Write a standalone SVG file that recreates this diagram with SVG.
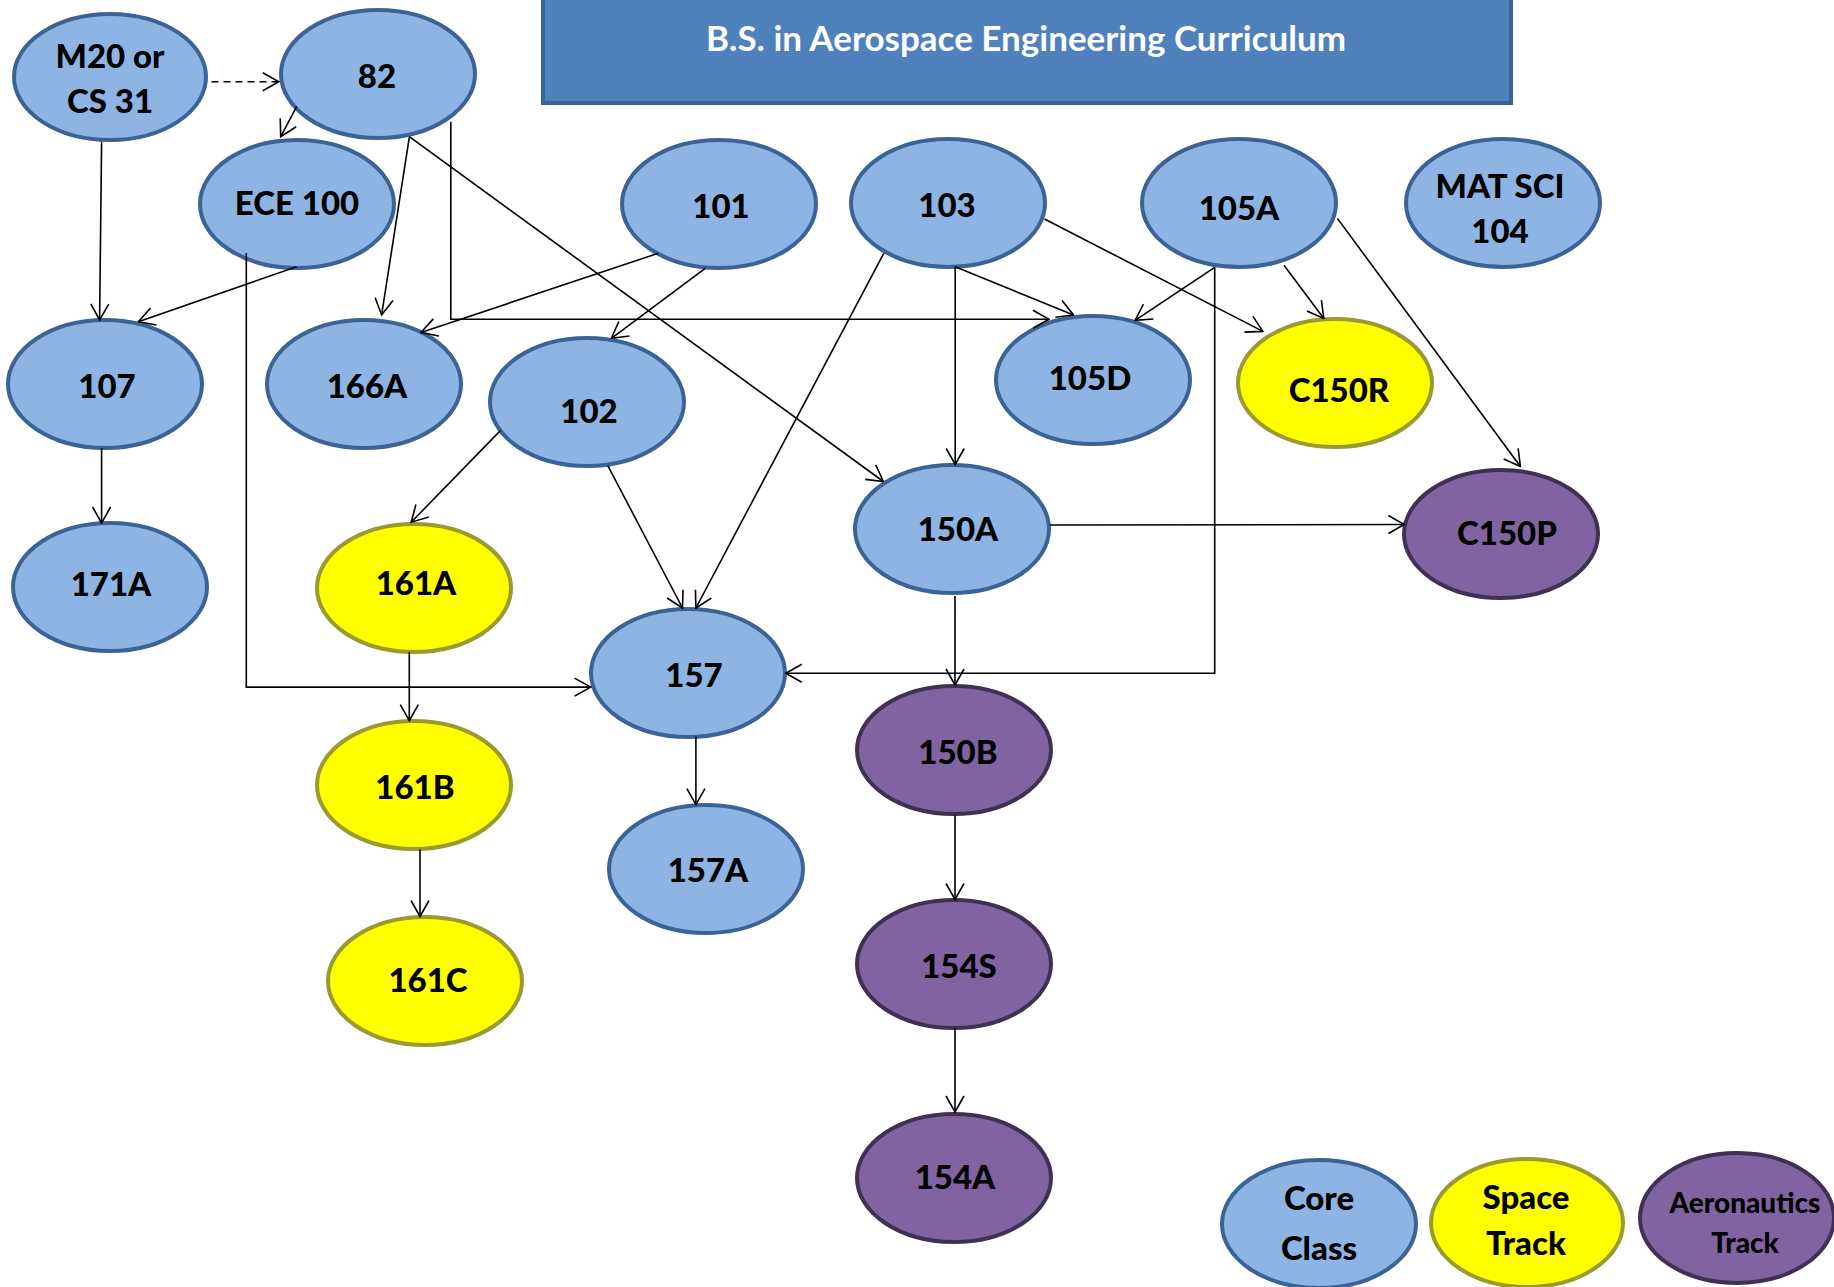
<svg xmlns="http://www.w3.org/2000/svg" width="1834" height="1287" viewBox="0 0 1834 1287">
<style>
.core{fill:#8EB4E3;stroke:#3B6395;stroke-width:4}
.space{fill:#FFFF00;stroke:#9A9A30;stroke-width:4}
.aero{fill:#8064A2;stroke:#3F3151;stroke-width:4}
.t{font-family:Lato,"Open Sans","Liberation Sans",sans-serif;font-weight:900;font-size:33px;fill:#000;text-anchor:middle}
.c{fill:none;stroke:#000;stroke-width:1.6}
</style>
<defs>
<marker id="ah" viewBox="0 0 18 20" refX="17" refY="10" markerWidth="18" markerHeight="20" markerUnits="userSpaceOnUse" orient="auto">
<path d="M1,1 L17,10 L1,19" fill="none" stroke="#000" stroke-width="1.6"/>
</marker>
</defs>
<rect width="1834" height="1287" fill="#fff"/>
<g id="title">
<rect x="543" y="-4" width="968" height="107" fill="#4F81BD" stroke="#3B6395" stroke-width="4"/>
<text x="1026" y="51" class="t" style="fill:#fff;font-weight:bold;font-size:35px">B.S. in Aerospace Engineering Curriculum</text>
</g>
<g id="m20"><ellipse class="core" cx="110" cy="77" rx="96" ry="63"/><text class="t" x="110" y="68">M20 or</text><text class="t" x="110" y="113">CS 31</text></g>
<g id="n82"><ellipse class="core" cx="378" cy="74" rx="97" ry="64"/><text class="t" x="377" y="88">82</text></g>
<g id="ece100"><ellipse class="core" cx="297" cy="204" rx="97" ry="64"/><text class="t" x="297" y="215">ECE 100</text></g>
<g id="n107"><ellipse class="core" cx="105" cy="384" rx="97" ry="64"/><text class="t" x="107" y="398">107</text></g>
<g id="n166a"><ellipse class="core" cx="364" cy="384" rx="97" ry="64"/><text class="t" x="367" y="398">166A</text></g>
<g id="n102"><ellipse class="core" cx="587" cy="402" rx="97" ry="64"/><text class="t" x="589" y="423">102</text></g>
<g id="n101"><ellipse class="core" cx="719" cy="204" rx="97" ry="64"/><text class="t" x="721" y="218">101</text></g>
<g id="n103"><ellipse class="core" cx="948" cy="203" rx="97" ry="64"/><text class="t" x="947" y="217">103</text></g>
<g id="n105a"><ellipse class="core" cx="1239" cy="203" rx="97" ry="64"/><text class="t" x="1239" y="220">105A</text></g>
<g id="matsci104"><ellipse class="core" cx="1503" cy="203" rx="97" ry="64"/><text class="t" x="1500" y="198">MAT SCI</text><text class="t" x="1500" y="243">104</text></g>
<g id="n105d"><ellipse class="core" cx="1093" cy="380" rx="97" ry="64"/><text class="t" x="1090" y="390">105D</text></g>
<g id="c150r"><ellipse class="space" cx="1335" cy="383" rx="97" ry="64"/><text class="t" x="1339" y="402">C150R</text></g>
<g id="c150p"><ellipse class="aero" cx="1501" cy="534" rx="97" ry="64"/><text class="t" x="1507" y="545">C150P</text></g>
<g id="n150a"><ellipse class="core" cx="952" cy="529" rx="97" ry="64"/><text class="t" x="958" y="541">150A</text></g>
<g id="n171a"><ellipse class="core" cx="110" cy="587" rx="97" ry="64"/><text class="t" x="111" y="596">171A</text></g>
<g id="n161a"><ellipse class="space" cx="414" cy="588" rx="97" ry="64"/><text class="t" x="416" y="595">161A</text></g>
<g id="n157"><ellipse class="core" cx="688" cy="673" rx="97" ry="64"/><text class="t" x="694" y="687">157</text></g>
<g id="n161b"><ellipse class="space" cx="414" cy="785" rx="97" ry="64"/><text class="t" x="415" y="799">161B</text></g>
<g id="n150b"><ellipse class="aero" cx="954" cy="750" rx="97" ry="64"/><text class="t" x="958" y="764">150B</text></g>
<g id="n157a"><ellipse class="core" cx="706" cy="869" rx="97" ry="64"/><text class="t" x="708" y="882">157A</text></g>
<g id="n161c"><ellipse class="space" cx="425" cy="981" rx="97" ry="64"/><text class="t" x="428" y="992">161C</text></g>
<g id="n154s"><ellipse class="aero" cx="954" cy="964" rx="97" ry="64"/><text class="t" x="959" y="978">154S</text></g>
<g id="n154a"><ellipse class="aero" cx="954" cy="1178" rx="97" ry="64"/><text class="t" x="955" y="1189">154A</text></g>
<g id="legend-core"><ellipse class="core" cx="1319" cy="1224" rx="97" ry="64"/><text class="t" x="1319" y="1210">Core</text><text class="t" x="1319" y="1260">Class</text></g>
<g id="legend-space"><ellipse class="space" cx="1527" cy="1223" rx="96" ry="64"/><text class="t" x="1526" y="1209">Space</text><text class="t" x="1526" y="1255">Track</text></g>
<g id="legend-aero"><ellipse class="aero" cx="1737" cy="1218" rx="97" ry="65"/><text class="t" x="1745" y="1213" style="font-size:28px">Aeronautics</text><text class="t" x="1745" y="1253" style="font-size:28px">Track</text></g>
<g id="connectors">
<path class="c" d="M211.5,81.7 L278.8,81.7" stroke-dasharray="7 5" marker-end="url(#ah)"/>
<path class="c" d="M296.6,106.7 L280.7,136.7" marker-end="url(#ah)"/>
<path class="c" d="M101.6,141.7 L99.6,320" marker-end="url(#ah)"/>
<path class="c" d="M296.6,266.7 L138.4,321.7" marker-end="url(#ah)"/>
<path class="c" d="M409.3,137.3 L381.6,315" marker-end="url(#ah)"/>
<path class="c" d="M409.3,136.7 L883.4,481.5" marker-end="url(#ah)"/>
<path class="c" d="M450.8,121.7 L450.8,319.3 L1049,319.3" marker-end="url(#ah)"/>
<path class="c" d="M246.3,253 L246.3,687.1 L590.6,687.1" marker-end="url(#ah)"/>
<path class="c" d="M658.3,253.3 L421,332.5" marker-end="url(#ah)"/>
<path class="c" d="M705.2,268.3 L611.4,338.3" marker-end="url(#ah)"/>
<path class="c" d="M883.8,253.3 L695.9,608" marker-end="url(#ah)"/>
<path class="c" d="M955.2,266.7 L955.2,464.5" marker-end="url(#ah)"/>
<path class="c" d="M955.2,266.7 L1073.5,315" marker-end="url(#ah)"/>
<path class="c" d="M1044.5,219 L1262.9,331.4" marker-end="url(#ah)"/>
<path class="c" d="M1214.7,267.3 L1135.1,320.4" marker-end="url(#ah)"/>
<path class="c" d="M1214.7,267.3 L1214.7,673.3 L785.8,673.3" marker-end="url(#ah)"/>
<path class="c" d="M1284,265.3 L1323.8,318.4" marker-end="url(#ah)"/>
<path class="c" d="M1337.4,218.4 L1520.4,466.5" marker-end="url(#ah)"/>
<path class="c" d="M1049.9,525 L1404.3,524.5" marker-end="url(#ah)"/>
<path class="c" d="M500.6,430.4 L411.2,522.2" marker-end="url(#ah)"/>
<path class="c" d="M607.8,465.7 L682.5,608" marker-end="url(#ah)"/>
<path class="c" d="M101.6,448 L101.6,523" marker-end="url(#ah)"/>
<path class="c" d="M409.3,652 L409.3,720.7" marker-end="url(#ah)"/>
<path class="c" d="M420,849.3 L420,916.5" marker-end="url(#ah)"/>
<path class="c" d="M955,596 L955,685" marker-end="url(#ah)"/>
<path class="c" d="M695.9,736.6 L695.9,804.6" marker-end="url(#ah)"/>
<path class="c" d="M955,815.6 L955,899.5" marker-end="url(#ah)"/>
<path class="c" d="M955,1028 L955,1112" marker-end="url(#ah)"/>
</g>
</svg>
